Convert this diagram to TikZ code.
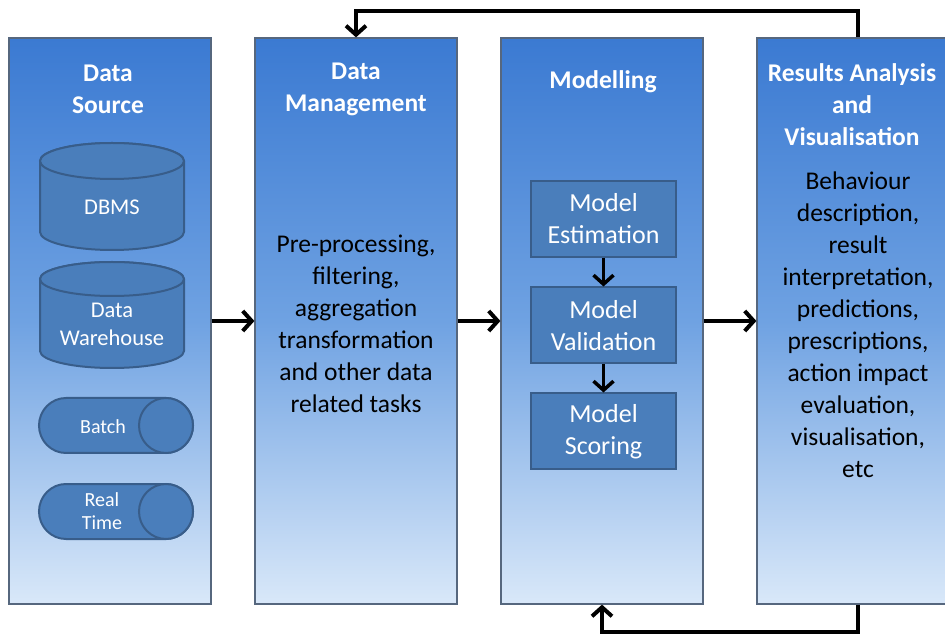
\documentclass[tikz,border=0pt]{standalone}
\usepackage{fontspec}
\setmainfont{Carlito}
\usetikzlibrary{arrows.meta}

\definecolor{stageTop}{HTML}{3B7AD2}
\definecolor{stageMid}{HTML}{6FA2E2}
\definecolor{stageBottom}{HTML}{D9E8F9}
\definecolor{stageEdge}{HTML}{56677E}
\definecolor{shapeFill}{HTML}{4A7EBB}
\definecolor{shapeEdge}{HTML}{385D8A}

\begin{document}
\begin{tikzpicture}[x=1pt,y=1pt,
    stage/.style={rectangle, draw=stageEdge, line width=1.2pt,
      minimum width=202pt, minimum height=566pt,
      top color=stageTop, bottom color=stageBottom, middle color=stageMid},
    heading/.style={text=white, align=center,
      font=\bfseries\fontsize{25.5}{32}\selectfont},
    body/.style={text=black, align=center,
      font=\fontsize{25.5}{32}\selectfont},
    unit/.style={rectangle, draw=shapeEdge, fill=shapeFill, line width=2pt,
      minimum width=145pt, minimum height=76pt, text=white, align=center,
      font=\fontsize{26}{32}\selectfont},
    store/.style={draw=shapeEdge, fill=shapeFill, line width=2pt},
    storetext/.style={text=white, align=center,
      font=\fontsize{22.5}{28}\selectfont},
    feedtext/.style={text=white, align=center,
      font=\fontsize{20}{23}\selectfont},
    flow/.style={-{Straight Barb[length=9pt,width=20pt]}, line width=4pt}
  ]
  \clip (0,0) rectangle (945,635);

  % the four stages
  \node[stage] (src) at (110,314) {};
  \node[stage] (mgmt) at (356,314) {};
  \node[stage] (model) at (602,314) {};
  \node[stage] (res) at (858,314) {};

  \node[heading] (srctitle) at (108,546) {Data\\Source};
  \node[heading] (mgmttitle) at (356,546) {Data\\Management};
  \node[heading] (modeltitle) at (603,553) {Modelling};
  \node[heading] (restitle) at (852,530) {Results Analysis\\and\\Visualisation};

  % data sources
  \draw[store] (40,474) -- (40,403)
    arc[start angle=180, end angle=360, x radius=72, y radius=18]
    -- (184,474)
    arc[start angle=0, end angle=180, x radius=72, y radius=18] -- cycle;
  \draw[store] (112,474) ellipse[x radius=72, y radius=18];
  \node[storetext] (dbms) at (112,428) {DBMS};

  \draw[store] (40,356) -- (40,284)
    arc[start angle=180, end angle=360, x radius=72, y radius=17]
    -- (184,356)
    arc[start angle=0, end angle=180, x radius=72, y radius=17] -- cycle;
  \draw[store] (112,356) ellipse[x radius=72, y radius=17];
  \node[storetext] (dwh) at (112,311) {Data\\Warehouse};

  \draw[store] (66,237) -- (166,237)
    arc[start angle=90, end angle=-90, x radius=27, y radius=27.5]
    -- (66,182)
    arc[start angle=270, end angle=90, x radius=27, y radius=27.5] -- cycle;
  \draw[store] (166,209.5) ellipse[x radius=27, y radius=27.5];
  \node[feedtext] (batch) at (103,208) {Batch};

  \draw[store] (66,151) -- (166,151)
    arc[start angle=90, end angle=-90, x radius=27, y radius=27.5]
    -- (66,96)
    arc[start angle=270, end angle=90, x radius=27, y radius=27.5] -- cycle;
  \draw[store] (166,123.5) ellipse[x radius=27, y radius=27.5];
  \node[feedtext] (rt) at (102,123.5) {Real\\Time};

  % stage contents
  \node[body] (tasks) at (356,311) {Pre-processing,\\filtering,\\aggregation\\transformation\\and other data\\related tasks};

  \node[unit] (est) at (603.5,416) {Model\\Estimation};
  \node[unit] (val) at (603.5,309.5) {Model\\Validation};
  \node[unit] (scor) at (603.5,203.5) {Model\\Scoring};

  \node[body] (outputs) at (858,310.5) {Behaviour\\description,\\result\\interpretation,\\predictions,\\prescriptions,\\action impact\\evaluation,\\visualisation,\\etc};

  % connectors
  \draw[flow, line width=3.5pt] (est) -- (val);
  \draw[flow, line width=3.5pt] (val) -- (scor);
  \draw[flow] (src) -- (mgmt);
  \draw[flow] (mgmt) -- (model);
  \draw[flow] (model) -- (res);
  \draw[flow] (res.north) -- ++(0,26) -| (mgmt.north);
  \draw[flow] (res.south) -- ++(0,-27) -| (model.south);
\end{tikzpicture}
\end{document}
